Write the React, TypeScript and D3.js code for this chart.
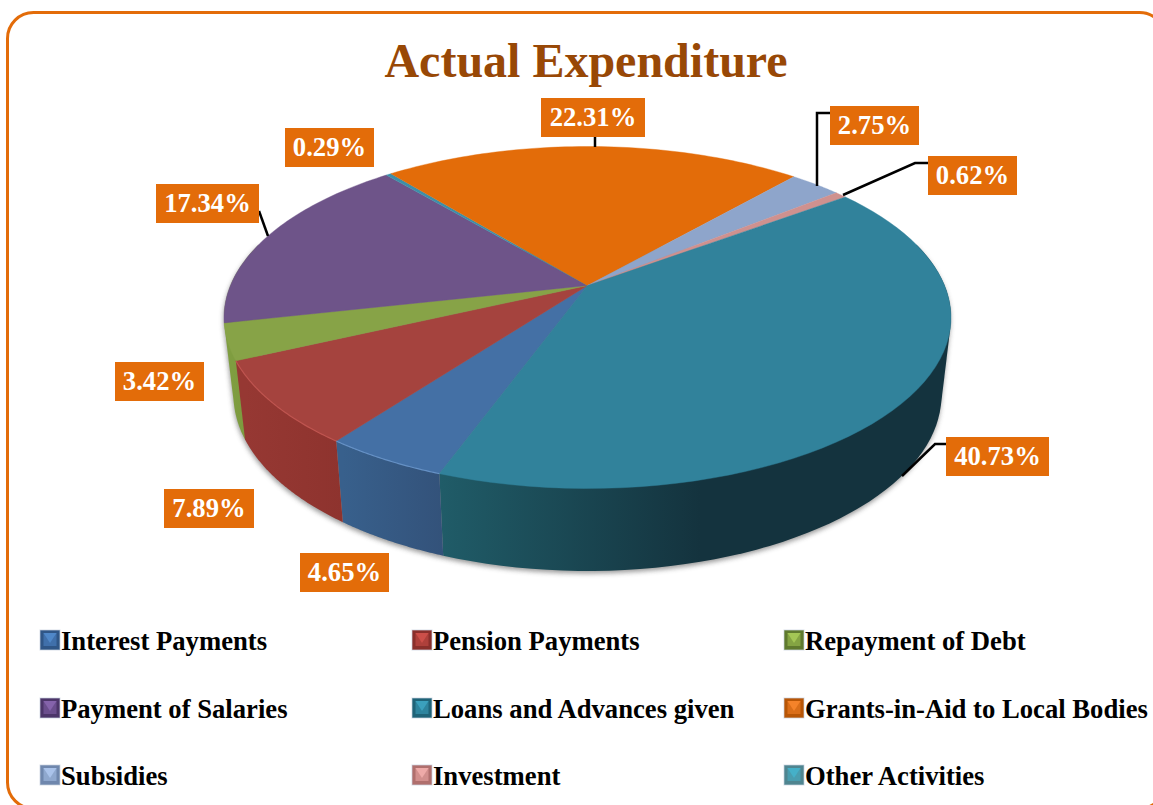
import React from "react";
import * as d3 from "d3";

const categories = ["Interest Payments","Pension Payments","Repayment of Debt","Payment of Salaries","Other Activities","Grants-in-Aid to Local Bodies","Subsidies","Investment","Loans and Advances given"];
const values = [4.65,7.89,3.42,17.34,0.29,22.31,2.75,0.62,40.73];
const topColors = ["#4470a5","#a5433e","#87a347","#6e5489","#3d8fa8","#e36c09","#8ea5cb","#cf918f","#31829b"];
const wallColors = [["#38608c","#33527a"],["#963833","#8e332e"],["#7f9d40","#78953c"],["#5a4270","#523b68"],["#2c6a7c","#2c6a7c"],["#b55607","#b55607"],["#71849f","#71849f"],["#a67371","#a67371"],["#205c68","#14333e"]];
const legendOrder = ["Interest Payments","Pension Payments","Repayment of Debt","Payment of Salaries","Loans and Advances given","Grants-in-Aid to Local Bodies","Subsidies","Investment","Other Activities"];
const swatchDark: Record<string,string> = {"Interest Payments":"#2f5687","Pension Payments":"#8a2f2b","Repayment of Debt":"#5f7a2e","Payment of Salaries":"#4c3569","Loans and Advances given":"#1f6378","Grants-in-Aid to Local Bodies":"#b85606","Subsidies":"#6f87ad","Investment":"#b06f6d","Other Activities":"#4f8590"};
const swatchLight: Record<string,string> = {"Interest Payments":"#4f87c8","Pension Payments":"#cc4f49","Repayment of Debt":"#a3c655","Payment of Salaries":"#8563ab","Loans and Advances given":"#3ba0bd","Grants-in-Aid to Local Bodies":"#f5832a","Subsidies":"#aac3ea","Investment":"#eeaaa8","Other Activities":"#45b0c8"};
const labelBoxes = [
  {t:"4.65%",x:300,y:553,w:89},{t:"7.89%",x:164,y:489,w:90},{t:"3.42%",x:115,y:362,w:89},
  {t:"17.34%",x:156,y:184,w:103},{t:"0.29%",x:285,y:128,w:89},{t:"22.31%",x:541,y:98,w:104},
  {t:"2.75%",x:830,y:106,w:89},{t:"0.62%",x:928,y:156,w:89},{t:"40.73%",x:946,y:437,w:103},
];
const leaders: [number,number][][] = [
  [[830,113],[817,113],[817,186]],
  [[928,163],[915,163],[843,195]],
  [[946,444],[935,444],[902,476]],
  [[259,211],[268,236]],
  [[595,137],[595,147]],
];

const FONT = "'Liberation Serif', serif";
const top = {cx:587.5, cy:317.5, rx:363.5, ry:171};
const bot = {cx:587.5, cy:395, rx:354, ry:176};
const p = 0.187;
const DEG = Math.PI/180;
const project = (a:number, e:typeof top):[number,number] => {
  const u = Math.sin(a), v = Math.cos(a), d = 1 + p*v;
  return [e.cx + e.rx*u*Math.sqrt(1-p*p)/d, e.cy - e.ry*(v+p)/d];
};
const apex:[number,number] = [top.cx, top.cy - top.ry*p];
const line = d3.line<[number,number]>();
const START = 200*DEG;
const arcs = d3.pie<number>().sort(null).startAngle(START).endAngle(START+2*Math.PI)(values);
const samples = (a0:number,a1:number) => d3.range(0,61).map(i=>a0+(a1-a0)*i/60);
// the visible front walls: Debt first (it runs up to the left edge, behind Pension), then Loans, Interest, Pension
const wallRanges: [number,number,number][] = [
  [2, arcs[2].startAngle, 285*DEG],
  [8, 435*DEG, arcs[8].endAngle],
  [0, arcs[0].startAngle, arcs[0].endAngle],
  [1, arcs[1].startAngle, arcs[1].endAngle],
];
const wallPath = (a0:number,a1:number) => {
  const as = samples(a0,a1);
  const hull = d3.polygonHull([...as.map(a=>project(a,top)), ...as.map(a=>project(a,bot))])!;
  return line(hull)+"Z";
};
const topPath = (a0:number,a1:number) => line([apex, ...samples(a0,a1).map(a=>project(a,top))])+"Z";
const rimPath = (a0:number,a1:number) => line(samples(a0,a1).map(a=>project(a,top)))!;
const hullAll = d3.polygonHull([...samples(75*DEG,285*DEG).map(a=>project(a,top)),...samples(75*DEG,285*DEG).map(a=>project(a,bot))])!;

function Swatch({name,x,y}:{name:string,x:number,y:number}) {
  const s = 20;
  return <g>
    <rect x={x} y={y} width={s} height={s} fill={swatchDark[name]} stroke="#c9d3df" strokeOpacity={0.7} strokeWidth={1}/>
    <rect x={x+3.5} y={y+3} width={s-7} height={s-7} fill={swatchLight[name]} opacity={0.55}/>
    <path d={`M${x+3.5},${y+3}L${x+s-3.5},${y+3}L${x+s/2},${y+s/2+3}Z`} fill={swatchLight[name]}/>
  </g>;
}

export default function App() {
  return (
    <svg width={1153} height={805} viewBox="0 0 1153 805" style={{position:"fixed",left:0,top:0,background:"#fff",display:"block"}}>
      <defs>
        <filter id="soft" x="-10%" y="-10%" width="120%" height="120%"><feGaussianBlur stdDeviation="2.5"/></filter>
        {wallRanges.map(([i,a0,a1])=>{
          const xs = samples(a0,a1).map(a=>project(a,bot)[0]);
          return <linearGradient key={i} id={`w${i}`} gradientUnits="userSpaceOnUse" x1={i===8?440:d3.min(xs)} x2={i===8?700:d3.max(xs)} y1={0} y2={0}>
            <stop offset="0" stopColor={wallColors[i][0]}/>
            <stop offset="1" stopColor={wallColors[i][1]}/>
          </linearGradient>;
        })}
      </defs>
      <rect x={7.5} y={12.5} width={1158} height={796} rx={26} ry={26} fill="#fff" stroke="#e36c09" strokeWidth={3}/>
      <text x={586} y={77} textAnchor="middle" fontFamily={FONT} fontWeight="bold" fontSize={48} fill="#984806">Actual Expenditure</text>

      <path d={line(hullAll)+"Z"} transform="translate(-0.5,2.5)" fill="#444" opacity={0.55} filter="url(#soft)"/>
      {wallRanges.map(([i,a0,a1])=><path key={i} d={wallPath(a0,a1)} fill={`url(#w${i})`}/>)}
      {arcs.map((d,i)=><path key={i} d={topPath(d.startAngle,d.endAngle)} fill={topColors[i]} stroke={topColors[i]} strokeWidth={0.4}/>)}
      {[0,1].map(i=><path key={i} d={rimPath(arcs[i].startAngle,arcs[i].endAngle)} fill="none" stroke={i===0?"#6f9bd0":"#c75a55"} strokeWidth={1.2} opacity={0.8}/>)}

      {leaders.map((l,i)=><path key={i} d={line(l)!} fill="none" stroke="#000" strokeWidth={2.5}/>)}
      {labelBoxes.map((b,i)=><g key={i}>
        <rect x={b.x} y={b.y} width={b.w} height={39} fill="#e36c09"/>
        <text x={b.x+b.w/2} y={b.y+28} textAnchor="middle" fontFamily={FONT} fontWeight="bold" fontSize={26.67} fill="#fff">{b.t}</text>
      </g>)}

      {legendOrder.map((name,i)=>{
        const col = i%3, row = Math.floor(i/3);
        const sx = [40,412,784][col], sy = [630,698,765][row];
        return <g key={name}>
          <Swatch name={name} x={sx} y={sy}/>
          <text x={sx+21} y={sy+20} fontFamily={FONT} fontWeight="bold" fontSize={26.67} fill="#000">{name}</text>
        </g>;
      })}
    </svg>
  );
}
